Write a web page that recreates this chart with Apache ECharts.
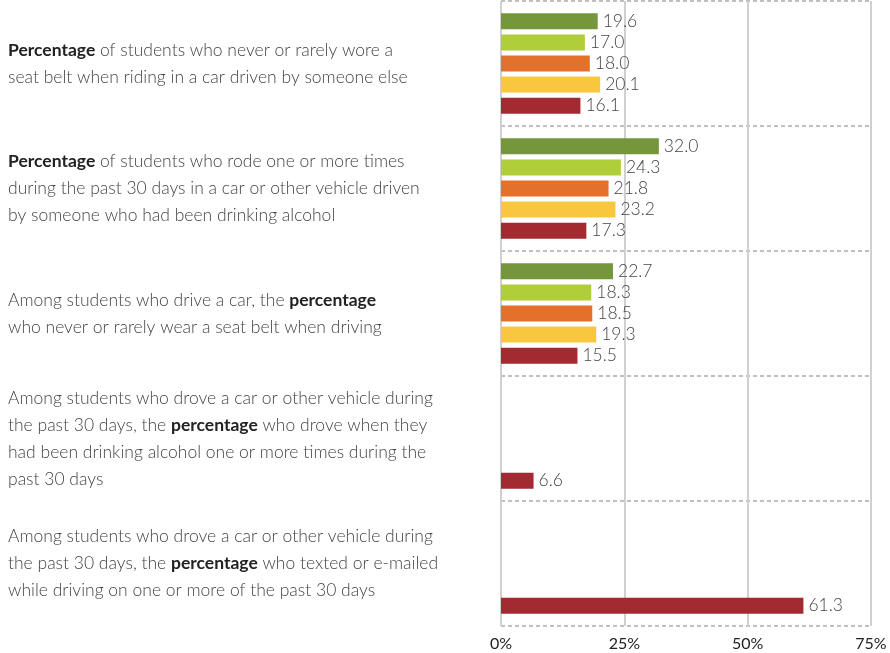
<!DOCTYPE html>
<html>
<head>
<meta charset="utf-8">
<script src="https://cdn.jsdelivr.net/npm/echarts@6/dist/echarts.min.js"></script>
<style>html,body{margin:0;padding:0;background:#fff}#c{width:890px;height:653px}</style>
</head>
<body>
<div id="c"></div>
<script>
const categories = [
  "{b|Percentage} of students who never or rarely wore a\nseat belt when riding in a car driven by someone else",
  "{b|Percentage} of students who rode one or more times\nduring the past 30 days in a car or other vehicle driven\nby someone who had been drinking alcohol",
  "Among students who drive a car, the {b|percentage}\nwho never or rarely wear a seat belt when driving",
  "Among students who drove a car or other vehicle during\nthe past 30 days, the {b|percentage} who drove when they\nhad been drinking alcohol one or more times during the\npast 30 days",
  "Among students who drove a car or other vehicle during\nthe past 30 days, the {b|percentage} who texted or e-mailed\nwhile driving on one or more of the past 30 days"
];
const seriesNames = ["Series 1", "Series 2", "Series 3", "Series 4", "Series 5"];
const seriesColors = ["#76963c", "#b0ce3a", "#e3702b", "#f9c73f", "#a32a31"];
const values1 = [19.6, 32.0, 22.7, null, null];
const values2 = [17.0, 24.3, 18.3, null, null];
const values3 = [18.0, 21.8, 18.5, null, null];
const values4 = [20.1, 23.2, 19.3, null, null];
const values5 = [16.1, 17.3, 15.5, 6.6, 61.3];
const xTicks = [0, 25, 50, 75];

const allValues = [values1, values2, values3, values4, values5];
const FONT = 'Lato, "Open Sans", sans-serif';

const chart = echarts.init(document.getElementById('c'), null, {renderer: 'canvas'});
chart.setOption({
  animation: false,
  grid: {left: 501, right: 19, top: 1, bottom: 27, containLabel: false},
  xAxis: {
    type: 'value',
    min: xTicks[0], max: xTicks[xTicks.length - 1], interval: 25,
    axisLine: {show: false},
    axisTick: {show: false},
    splitLine: {show: true, lineStyle: {color: '#d0d0d0', width: 2}},
    axisLabel: {formatter: '{value}%', fontFamily: FONT, fontSize: 16, color: '#222', margin: 10}
  },
  yAxis: {
    type: 'category',
    inverse: true,
    data: categories,
    axisLine: {show: false},
    axisTick: {show: false},
    splitLine: {show: true, lineStyle: {color: '#aaaaaa', width: 1.5, type: [4, 3]}},
    axisLabel: {
      align: 'left',
      margin: 493,
      fontFamily: FONT,
      fontSize: 17.5,
      fontWeight: 300,
      color: '#444',
      lineHeight: 27,
      rich: {
        b: {fontFamily: FONT, fontSize: 17.5, fontWeight: 'bold', color: '#222', lineHeight: 27}
      }
    }
  },
  series: allValues.map((vals, i) => ({
    name: seriesNames[i],
    type: 'bar',
    data: vals,
    barWidth: 16,
    barGap: '32%',
    itemStyle: {color: seriesColors[i]},
    label: {
      show: true,
      position: 'right',
      distance: 5,
      fontFamily: FONT,
      fontSize: 17.5,
      fontWeight: 300,
      color: '#444',
      formatter: p => p.value == null ? '' : p.value.toFixed(1)
    }
  }))
});
</script>
</body>
</html>
